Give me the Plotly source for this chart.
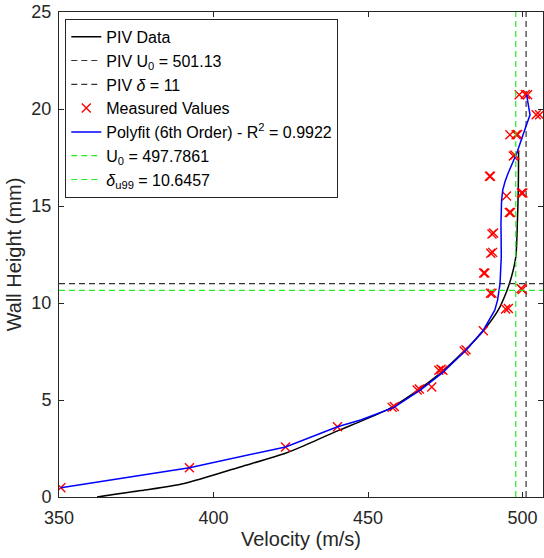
import plotly.graph_objects as go

# PIV data (black curve)
piv_x = [362.3, 376.5, 390.5, 408.6, 423.5, 430.8, 440.1, 448.5, 457.5, 466.5, 473.3, 481.4,
         487.3, 492.1, 494.6, 496.4, 497.8, 498.3, 498.6, 498.7]
piv_y = [0.0, 0.33, 0.70, 1.55, 2.27, 2.75, 3.41, 3.96, 4.61, 5.55, 6.37, 7.57,
         8.57, 9.63, 10.5, 11.35, 12.38, 14.11, 15.83, 17.84]

# Measured values (red crosses)
meas_x = [350.6, 392.2, 423.3, 440.1, 457.8, 458.5, 465.9, 466.6, 470.6, 472.9, 473.6, 474.2,
          481.1, 481.7, 487.3, 494.5, 495.4, 489.6, 490.1, 499.9, 499.5, 487.4, 487.8,
          489.7, 490.3, 490.1, 490.6, 495.7, 496.1, 494.8, 499.6, 500.1, 489.3, 489.6,
          497.0, 497.5, 495.9, 497.9, 498.4, 498.9, 500.9, 501.6, 504.4, 505.5]
meas_y = [0.48, 1.51, 2.58, 3.62, 4.62, 4.67, 5.52, 5.57, 5.67, 6.53, 6.58, 6.53,
          7.53, 7.59, 8.57, 9.69, 9.72, 10.5, 10.5, 10.7, 10.75, 11.55, 11.55,
          12.56, 12.61, 13.56, 13.61, 14.67, 14.67, 15.52, 15.67, 15.67, 16.53, 16.53,
          17.58, 17.63, 18.67, 18.67, 18.69, 20.73, 20.75, 20.73, 19.70, 19.70]

# Polyfit (blue curve)
fit_x = [350.6, 392.2, 423.3, 440.1, 447.6, 458.4, 467.0, 474.0, 481.6, 487.2, 491.0, 491.9,
         492.7, 493.1, 493.0, 493.2, 493.6, 494.3, 495.3, 498.1, 500.7, 502.4, 501.3]
fit_y = [0.48, 1.51, 2.58, 3.62, 3.97, 4.62, 5.52, 6.4, 7.55, 8.57, 9.63, 10.15,
         11.0, 12.38, 14.11, 15.31, 15.83, 16.25, 16.69, 17.72, 18.93, 19.70, 20.73]

piv_u0 = 501.13
piv_delta = 11.0
fit_u0 = 497.7861
fit_delta = 10.6457

x_range = [350, 506.6]
y_range = [0, 25]
x_ticks = [350, 400, 450, 500]
y_ticks = [0, 5, 10, 15, 20, 25]

axis_col = "#262626"
green = "#22ee22"
dash = "6px,4px"
fam = "Liberation Sans, Arial, sans-serif"

fig = go.Figure()
fig.add_trace(go.Scatter(x=piv_x, y=piv_y, mode="lines", name="PIV Data",
                         line=dict(color="black", width=1.5, shape="spline", smoothing=0.8)))
fig.add_trace(go.Scatter(x=[piv_u0, piv_u0], y=y_range, mode="lines",
                         name="PIV U<sub>0</sub> = 501.13",
                         line=dict(color="#333333", width=1.2, dash=dash)))
fig.add_trace(go.Scatter(x=x_range, y=[piv_delta, piv_delta], mode="lines",
                         name="PIV <i>δ</i> = 11",
                         line=dict(color="#333333", width=1.2, dash=dash)))
fig.add_trace(go.Scatter(x=meas_x, y=meas_y, mode="markers", name="Measured Values",
                         marker=dict(symbol="x-thin", size=9, color="red",
                                     line=dict(color="red", width=1.4))))
fig.add_trace(go.Scatter(x=fit_x, y=fit_y, mode="lines",
                         name="Polyfit (6th Order) - R<sup>2</sup> = 0.9922",
                         line=dict(color="#0000ff", width=1.5)))
fig.add_trace(go.Scatter(x=[fit_u0, fit_u0], y=y_range, mode="lines",
                         name="U<sub>0</sub> = 497.7861",
                         line=dict(color=green, width=1.2, dash=dash)))
fig.add_trace(go.Scatter(x=x_range, y=[fit_delta, fit_delta], mode="lines",
                         name="<i>δ</i><sub>u99</sub> = 10.6457",
                         line=dict(color=green, width=1.2, dash=dash)))

axis_common = dict(showline=True, linecolor=axis_col, linewidth=1, mirror="ticks",
                   ticks="inside", ticklen=5, tickcolor=axis_col, showgrid=False,
                   zeroline=False, automargin=False,
                   tickfont=dict(size=18, color=axis_col, family=fam))
fig.update_xaxes(range=x_range, tickvals=x_ticks, ticklabelstandoff=4,
                 title=dict(text="Velocity (m/s)", font=dict(size=20, color=axis_col, family=fam),
                            standoff=2),
                 **axis_common)
fig.update_yaxes(range=y_range, tickvals=y_ticks, ticklabelstandoff=3,
                 title=dict(text="Wall Height (mm)", font=dict(size=20, color=axis_col, family=fam),
                            standoff=4),
                 **axis_common)

fig.update_layout(
    width=544, height=558,
    margin=dict(l=58.6, r=1, t=12.3, b=61.3),
    paper_bgcolor="white", plot_bgcolor="white",
    font=dict(family=fam, color="black"),
    legend=dict(x=0.013, y=0.986, xanchor="left", yanchor="top",
                bgcolor="white", bordercolor=axis_col, borderwidth=1,
                font=dict(size=16, color="black", family=fam), itemwidth=30,
                tracegroupgap=0),
    showlegend=True,
)

# remove the default 8px page margin so the figure fills the window exactly
fig.write_html("out.html", config={"displayModeBar": False},
               post_script="document.body.style.margin='0px';")
